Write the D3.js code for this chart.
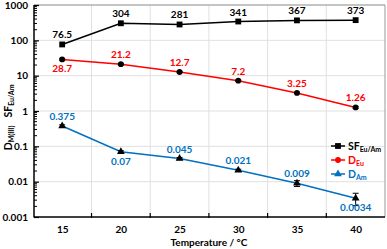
<!DOCTYPE html>
<html><head><meta charset="utf-8">
<script src="https://cdn.jsdelivr.net/npm/d3@7"></script>
<style>
body{margin:0;background:#fff;}
text{font-family:Lato,"Open Sans",sans-serif;font-weight:bold;}
</style></head>
<body><svg id="c" width="387" height="249"></svg>
<script>
const temps = [15, 20, 25, 30, 35, 40];
const sfValues = [76.5, 304, 281, 341, 367, 373];
const sfLabels = ["76.5", "304", "281", "341", "367", "373"];
const dEuValues = [28.7, 21.2, 12.7, 7.2, 3.25, 1.26];
const dEuErr = [1.5, 1.1, 0.6, 0.3, 0.15, 0.07];
const dEuLabels = ["28.7", "21.2", "12.7", "7.2", "3.25", "1.26"];
const dAmValues = [0.375, 0.07, 0.045, 0.021, 0.009, 0.0034];
const dAmErr = [0.03, 0.005, 0.003, 0.0015, 0.0017, 0.0013];
const dAmLabels = ["0.375", "0.07", "0.045", "0.021", "0.009", "0.0034"];
const yTicks = [0.001, 0.01, 0.1, 1, 10, 100, 1000];
const yTickLabels = ["0.001", "0.01", "0.1", "1", "10", "100", "1000"];
const xGrid = [17.5, 22.5, 27.5, 32.5, 37.5];

const svg = d3.select("#c");
const L = 34, R = 385, T = 5, B = 217;
const x = d3.scaleLinear().domain([12.6, 42.5]).range([L, R]);
const y = d3.scaleLog().domain([0.001, 1000]).range([B, T]);

const black = "#000", red = "#ff0000", blue = "#0070c0";

// gridlines
svg.append("g").selectAll("line").data(yTicks.slice(1)).join("line")
  .attr("x1", L).attr("x2", R).attr("y1", d => y(d)).attr("y2", d => y(d))
  .attr("stroke", "#e0e0e0").attr("stroke-width", 1);
svg.append("g").selectAll("line").data(xGrid).join("line")
  .attr("x1", d => x(d)).attr("x2", d => x(d)).attr("y1", T).attr("y2", B)
  .attr("stroke", "#e0e0e0").attr("stroke-width", 1);
// frame top/right
svg.append("path").attr("d", `M${L},${T}H${R}V${B}`).attr("fill", "none").attr("stroke", "#999").attr("stroke-width", 1);

// y axis
const minor = [];
for (let e = -3; e < 3; e++) for (let m = 2; m <= 9; m++) minor.push(m * Math.pow(10, e));
svg.append("g").selectAll("line").data(minor).join("line")
  .attr("x1", L).attr("x2", L + 3).attr("y1", d => y(d)).attr("y2", d => y(d))
  .attr("stroke", black).attr("stroke-width", 1);
const yAxis = d3.axisRight(y).tickValues(yTicks).tickSize(5).tickFormat("");
svg.append("g").attr("transform", `translate(${L},0)`).call(yAxis)
  .call(g => g.select(".domain").remove())
  .call(g => g.selectAll("line").attr("stroke-width", 1.2));
svg.append("g").selectAll("text").data(yTicks).join("text")
  .attr("x", L - 6).attr("y", d => y(d)).attr("dy", "0.35em")
  .attr("text-anchor", "end").attr("font-size", 10).attr("fill", black)
  .text((d, i) => yTickLabels[i]);
svg.append("line").attr("x1", L).attr("x2", L).attr("y1", T).attr("y2", B + 0.5)
  .attr("stroke", black).attr("stroke-width", 1.5);

// x axis
svg.append("line").attr("x1", L).attr("x2", R).attr("y1", B).attr("y2", B)
  .attr("stroke", black).attr("stroke-width", 1.5);
svg.append("g").selectAll("line").data(xGrid).join("line")
  .attr("x1", d => x(d)).attr("x2", d => x(d)).attr("y1", B - 4).attr("y2", B + 1)
  .attr("stroke", black).attr("stroke-width", 1.2);
const xAxis = d3.axisBottom(x).tickValues(temps).tickSize(0).tickPadding(9);
svg.append("g").attr("transform", `translate(0,${B})`).call(xAxis)
  .call(g => g.select(".domain").remove())
  .call(g => g.selectAll("text").attr("font-size", 10).attr("fill", black)
    .style("font-family", "Lato").style("font-weight", "bold"));
svg.append("text").attr("x", x(27.5)).attr("y", 246).attr("text-anchor", "middle")
  .attr("font-size", 10).attr("fill", black).text("Temperature / °C");

// y title
function rotLabel(cy, main, sub) {
  const t = svg.append("text").attr("transform", `translate(12,${cy}) rotate(-90)`)
    .attr("text-anchor", "middle").attr("font-size", 10.5).attr("fill", black);
  t.append("tspan").text(main);
  t.append("tspan").attr("font-size", 7).attr("dy", 2).text(sub);
}
rotLabel(101, "SF", "Eu/Am");
rotLabel(138, "D", "M(III)");

const line = d3.line().x((d, i) => x(temps[i])).y(d => y(d));

function drawErr(vals, errs, color) {
  const g = svg.append("g");
  vals.forEach((v, i) => {
    const cx = x(temps[i]), y1 = y(v + errs[i]), y2 = y(v - errs[i]);
    g.append("line").attr("x1", cx).attr("x2", cx).attr("y1", y1).attr("y2", y2).attr("stroke", color === red ? "#000" : "#000").attr("stroke-width", 1);
    g.append("line").attr("x1", cx - 3).attr("x2", cx + 3).attr("y1", y1).attr("y2", y1).attr("stroke", "#000").attr("stroke-width", 1);
    g.append("line").attr("x1", cx - 3).attr("x2", cx + 3).attr("y1", y2).attr("y2", y2).attr("stroke", "#000").attr("stroke-width", 1);
  });
}

// series lines
svg.append("path").datum(sfValues).attr("d", line).attr("fill", "none").attr("stroke", black).attr("stroke-width", 1.5);
svg.append("path").datum(dEuValues).attr("d", line).attr("fill", "none").attr("stroke", red).attr("stroke-width", 1.5);
svg.append("path").datum(dAmValues).attr("d", line).attr("fill", "none").attr("stroke", blue).attr("stroke-width", 1.5);
drawErr(dEuValues, dEuErr, red);
drawErr(dAmValues, dAmErr, blue);

// markers
const sq = d3.symbol().type(d3.symbolSquare).size(34);
const ci = d3.symbol().type(d3.symbolCircle).size(26);
const tr = d3.symbol().type(d3.symbolTriangle).size(26);
svg.append("g").selectAll("path").data(sfValues).join("path")
  .attr("transform", (d, i) => `translate(${x(temps[i])},${y(d)})`).attr("d", sq).attr("fill", black);
svg.append("g").selectAll("path").data(dEuValues).join("path")
  .attr("transform", (d, i) => `translate(${x(temps[i])},${y(d)})`).attr("d", ci).attr("fill", "#000");
svg.append("g").selectAll("path").data(dAmValues).join("path")
  .attr("transform", (d, i) => `translate(${x(temps[i])},${y(d)})`).attr("d", tr).attr("fill", "#000");

// data labels
function labels(vals, txt, color, below) {
  svg.append("g").selectAll("text").data(vals).join("text")
    .attr("x", (d, i) => x(temps[i]))
    .attr("y", (d, i) => y(d) + (below[i] ? 13 : -6))
    .attr("text-anchor", "middle").attr("font-size", 10).attr("fill", color)
    .text((d, i) => txt[i]);
}
labels(sfValues, sfLabels, black, [0, 0, 0, 0, 0, 0]);
labels(dEuValues, dEuLabels, red, [1, 0, 0, 0, 0, 0]);
labels(dAmValues, dAmLabels, blue, [0, 1, 0, 0, 0, 1]);

// legend
const leg = [
  {m: "SF", s: "Eu/Am", c: black, sym: sq},
  {m: "D", s: "Eu", c: red, sym: ci},
  {m: "D", s: "Am", c: blue, sym: tr}
];
leg.forEach((d, i) => {
  const ly = 146 + i * 14;
  svg.append("line").attr("x1", 331).attr("x2", 345).attr("y1", ly).attr("y2", ly).attr("stroke", d.c).attr("stroke-width", 1.5);
  svg.append("path").attr("transform", `translate(338,${ly})`).attr("d", d.sym).attr("fill", d.c);
  const t = svg.append("text").attr("x", 348).attr("y", ly + 4).attr("font-size", 10.5).attr("fill", d.c);
  t.append("tspan").text(d.m);
  t.append("tspan").attr("font-size", 7).attr("dy", 2).text(d.s);
});
</script></body></html>
